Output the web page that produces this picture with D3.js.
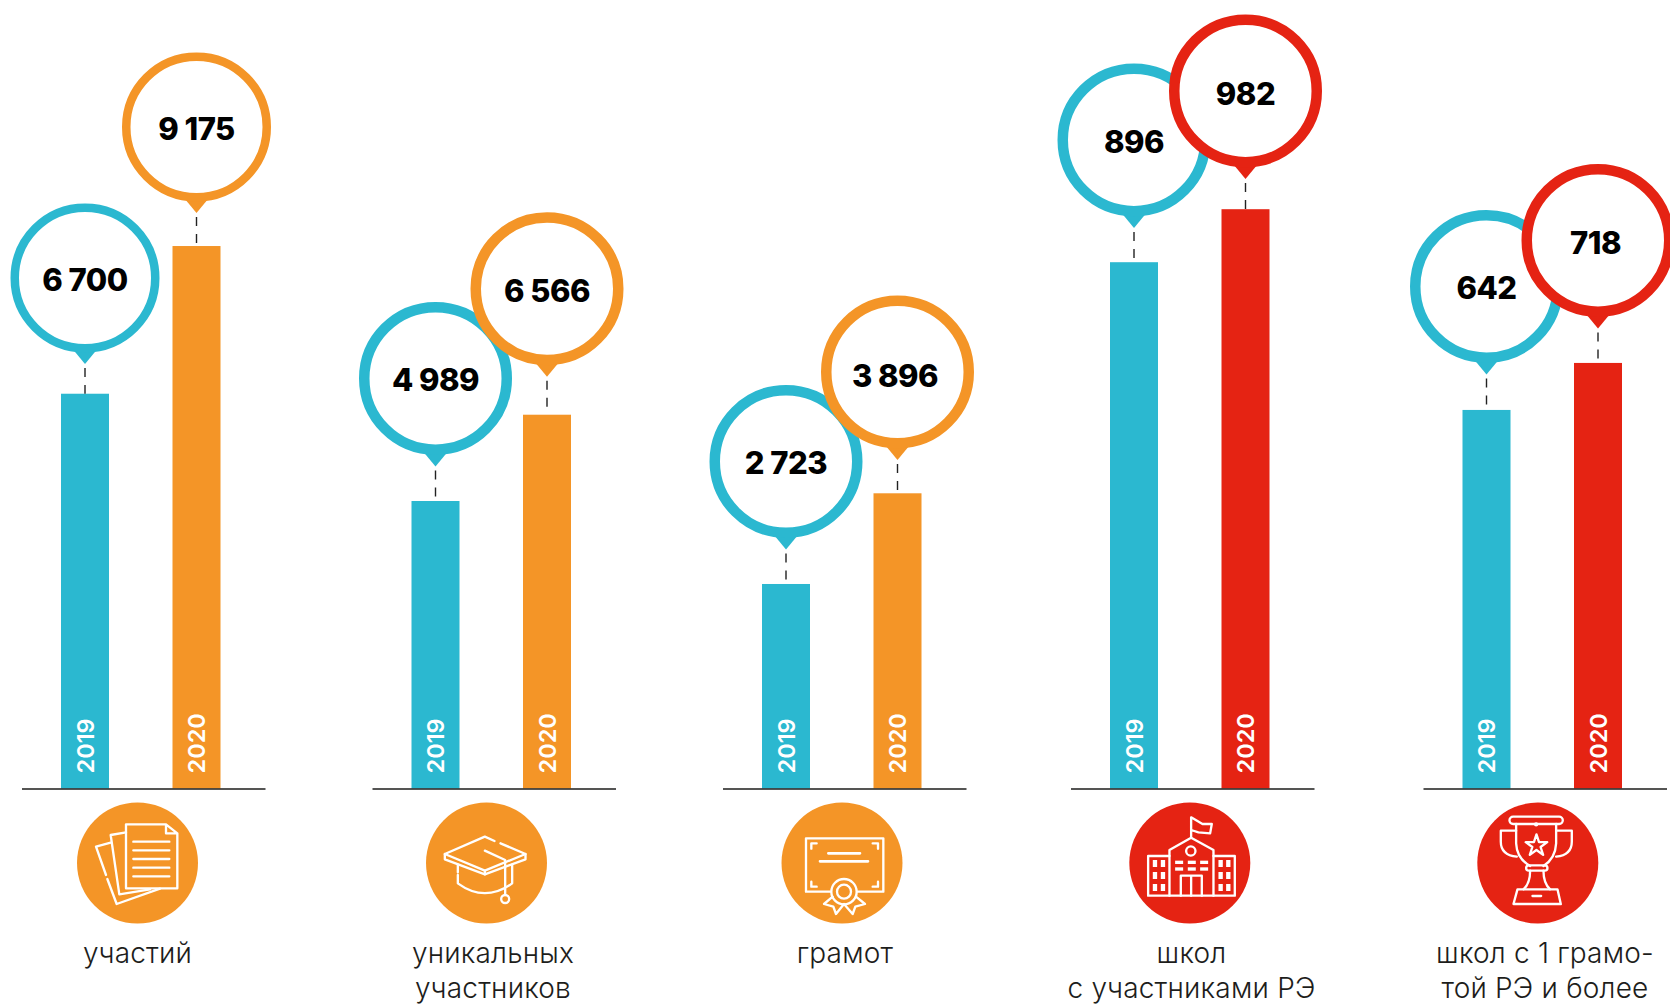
<!DOCTYPE html>
<html lang="ru">
<head>
<meta charset="utf-8">
<title>Участники РЭ 2019–2020</title>
<script src="https://cdn.jsdelivr.net/npm/d3@7/dist/d3.min.js"></script>
<style>
html,body{margin:0;padding:0;background:#fff;overflow:hidden}
svg{display:block}
text{font-family:Inter,"Noto Sans",sans-serif}
</style>
</head>
<body>
<div id="chart"></div>
<script>
// ---- data ----
const years = ["2019", "2020"];
const values2019 = [6700, 4989, 2723, 896, 642];
const values2020 = [9175, 6566, 3896, 982, 718];
const valueLabels2019 = ["6 700", "4 989", "2 723", "896", "642"];
const valueLabels2020 = ["9 175", "6 566", "3 896", "982", "718"];
const categoryLabels = [
  ["участий"],
  ["уникальных", "участников"],
  ["грамот"],
  ["школ", "с участниками РЭ"],
  ["школ с 1 грамо-", "той РЭ и более"]
];
// each panel of the original is drawn to its own scale
const panelDomains = [[85, 10139], [-265, 10700], [78, 7838], [42, 1015.6], [30, 1000]];

// ---- layout and style ----
const W = 1670, H = 1004, baseY = 788.5, topY = 188.5;
const panelLeft = [61, 411.5, 762, 1110, 1462.5];
const barW = 48, barStep = 112;
const iconX = [137.5, 486.5, 842, 1189.8, 1537.8], iconY = 863, iconR = 60.5;
const labelX = [137.5, 493, 845, 1191.5, 1545];
const bubbleLift = [[115.7, 119], [122.6, 126], [122.5, 121.3], [122.3, 118.3], [123.5, 122.5]];
const bubbleR = [74.5, 76.5, 76.5, 76.5, 76.5];
const bubbleRing = [8.5, 10.5, 10.5, 10.5, 10.5];
const textShift = [[0, 0], [0, 0], [0, -2.5], [0, 0], [0, -2.5]];
const textDrop = [[13, 13], [13, 13], [13, 15], [13, 14], [13, 14]];
const BLUE = "#2bb8d0", ORANGE = "#f49527", RED = "#e52313";
const secondColor = [ORANGE, ORANGE, ORANGE, RED, RED];

const svg = d3.select("#chart").append("svg").attr("width", W).attr("height", H).attr("viewBox", `0 0 ${W} ${H}`);
const lineGen = d3.line();

const iconDraw = [
  // documents
  (g) => {
    g.attr("transform", `translate(${iconX[0]},${iconY}) scale(${1/3}) translate(-202.5,-189)`);
    g.append("path").attr("d", "M168 73H288L322 100V265H168ZM288 73V100H322");
    g.append("path").attr("d", "M190 125H298M190 151H298M190 177H298M190 203H298M190 229H298");
    g.append("path").attr("d", "M168 97L122 105L148 283L240 268");
    g.append("path").attr("d", "M122 128L78 140L108 225M112 237L140 312L270 266");
  },
  // graduation cap
  (g) => {
    g.attr("transform", `translate(${iconX[1]},${iconY}) scale(${1/3})`);
    g.append("path").attr("d", "M24 -66L-5 -79L-125 -27V-11L-5 34L117 -11V-27L42 -59");
    g.append("path").attr("d", "M-125 -27L-5 23L117 -27M-5 23V34");
    g.append("path").attr("d", "M-86 5V28M-86 36V61Q-5 120 77 61V5");
    g.append("path").attr("d", "M-5 -37L56 -9V96");
    g.append("circle").attr("cx", 56).attr("cy", 108).attr("r", 12);
  },
  // certificate
  (g) => {
    g.attr("transform", `translate(${iconX[2]},${iconY}) scale(${1/3}) translate(-426,-249)`);
    g.append("path").attr("d", "M392 335H318V175H550V335H472");
    g.append("path").attr("d", "M350 190H334V206M518 190H534V206M334 305V320H350M534 305V320H518");
    g.append("path").attr("d", "M385 220H480M360 244H504").attr("stroke-width", 8);
    g.append("circle").attr("cx", 432).attr("cy", 335).attr("r", 38);
    g.append("circle").attr("cx", 432).attr("cy", 335).attr("r", 21);
    g.append("path").attr("d", "M398 350L372 372L400 380L408 402L432 372L458 402L466 380L495 372L468 350");
  },
  // school
  (g) => {
    g.attr("transform", `translate(${iconX[3]},${iconY}) scale(${1/3}) translate(-209,-189)`);
    g.append("path").attr("d", "M148 287V150L213 113L280 150V287");
    g.append("path").attr("d", "M148 168H84V287H344V168H280");
    g.append("path").attr("d", "M213 113V52L247 72H275L270 100L235 97L213 90");
    g.append("circle").attr("cx", 212).attr("cy", 153).attr("r", 14);
    g.append("path").attr("d", "M182 287V227H245V287M213 227V287");
    const win = g.append("g").attr("fill", "#fff").attr("stroke", "none");
    [[98,180],[122,180],[98,216],[122,216],[98,252],[122,252],[295,180],[318,180],[295,216],[318,216],[295,252],[318,252]]
      .forEach(([x, y]) => win.append("rect").attr("x", x).attr("y", y).attr("width", 13).attr("height", 21));
    [[165,182],[203,182],[240,182],[165,202],[203,202],[240,202]]
      .forEach(([x, y]) => win.append("rect").attr("x", x).attr("y", y).attr("width", 24).attr("height", 10));
  },
  // trophy
  (g) => {
    g.attr("transform", `translate(${iconX[4]},${iconY}) scale(${1/3}) translate(-203,-189)`);
    g.append("rect").attr("x", 118).attr("y", 50).attr("width", 160).attr("height", 22).attr("rx", 11);
    g.append("path").attr("d", "M138 72V130Q140 175 180 198M258 72V130Q256 175 220 198");
    g.append("rect").attr("x", 168).attr("y", 196).attr("width", 64).attr("height", 16).attr("rx", 8);
    g.append("path").attr("d", "M180 212Q180 250 160 268M220 212Q220 250 240 268");
    g.append("path").attr("d", "M142 268H262L272 312H130Z");
    g.append("path").attr("d", "M187 288H213");
    g.append("path").attr("d", "M138 92H92V125Q92 165 140 170M258 92H305V125Q305 165 258 170");
    g.append("path").attr("transform", "translate(199,137)").attr("d", d3.symbol(d3.symbolStar, 1300)());
    g.append("circle").attr("cx", 198).attr("cy", 73).attr("r", 3).attr("fill", "#fff");
  }
];

values2019.forEach((v19, i) => {
  const panel = svg.append("g").attr("class", "panel");
  const rows = [
    { year: years[0], value: v19, label: valueLabels2019[i], color: BLUE, k: 0 },
    { year: years[1], value: values2020[i], label: valueLabels2020[i], color: secondColor[i], k: 1 }
  ];
  const y = d3.scaleLinear().domain(panelDomains[i]).range([baseY, topY]);
  const x = d3.scalePoint().domain(years).range([panelLeft[i], panelLeft[i] + barStep - 0.5]);

  // bars
  panel.selectAll("rect.bar").data(rows).join("rect").attr("class", "bar")
    .attr("x", d => x(d.year)).attr("width", barW)
    .attr("y", d => y(d.value)).attr("height", d => baseY - y(d.value))
    .attr("fill", d => d.color);

  // year labels
  panel.selectAll("text.year").data(rows).join("text").attr("class", "year")
    .attr("transform", d => `translate(${x(d.year) + barW / 2 + 8.5},${baseY - 15}) rotate(-90)`)
    .attr("fill", "#fff").attr("font-size", 23.5).attr("font-weight", 600)
    .text(d => d.year);

  // axis line
  const axis = d3.axisBottom(d3.scaleLinear().domain([0, 1]).range([panelLeft[i] - 39.5, panelLeft[i] + 204])).tickValues([]).tickSize(0);
  panel.append("g").attr("transform", `translate(0,${baseY})`).call(axis)
    .select(".domain").attr("stroke", "#1d1d1b").attr("stroke-width", 1.5);

  // bubbles
  rows.forEach(d => {
    const cx = x(d.year) + barW / 2;
    const top = y(d.value);
    const cy = top - bubbleLift[i][d.k];
    const r = bubbleR[i], ring = bubbleRing[i];
    const tip = cy + r + 11.5;
    panel.append("line").attr("x1", cx).attr("x2", cx).attr("y1", tip + 4).attr("y2", top)
      .attr("stroke", "#222").attr("stroke-width", 1.4).attr("stroke-dasharray", "9 8");
    panel.append("path").attr("fill", d.color)
      .attr("d", lineGen([[cx - 12, cy + r - 3], [cx, tip], [cx + 12, cy + r - 3]]) + "Z");
    panel.append("circle").attr("cx", cx).attr("cy", cy).attr("r", r - ring / 2)
      .attr("fill", "#fff").attr("stroke", d.color).attr("stroke-width", ring);
    panel.append("text").attr("x", cx + textShift[i][d.k]).attr("y", cy + textDrop[i][d.k])
      .attr("text-anchor", "middle").attr("fill", "#000")
      .attr("font-size", 31).attr("font-weight", 800).attr("word-spacing", 0).attr("letter-spacing", -0.5)
      .text(d.label);
  });

  // icon
  panel.append("circle").attr("cx", iconX[i]).attr("cy", iconY).attr("r", iconR).attr("fill", secondColor[i]);
  const icon = panel.append("g").attr("fill", "none").attr("stroke", "#fff").attr("stroke-width", 7)
    .attr("stroke-linejoin", "round").attr("stroke-linecap", "round");
  iconDraw[i](icon);

  // category label
  categoryLabels[i].forEach((line, n) => {
    panel.append("text").attr("x", labelX[i]).attr("y", 962.7 + n * 35)
      .attr("text-anchor", "middle").attr("fill", "#1d1d1b")
      .attr("font-size", 28).attr("font-weight", 300).attr("letter-spacing", 0.2)
      .text(line);
  });
});
</script>
</body>
</html>
